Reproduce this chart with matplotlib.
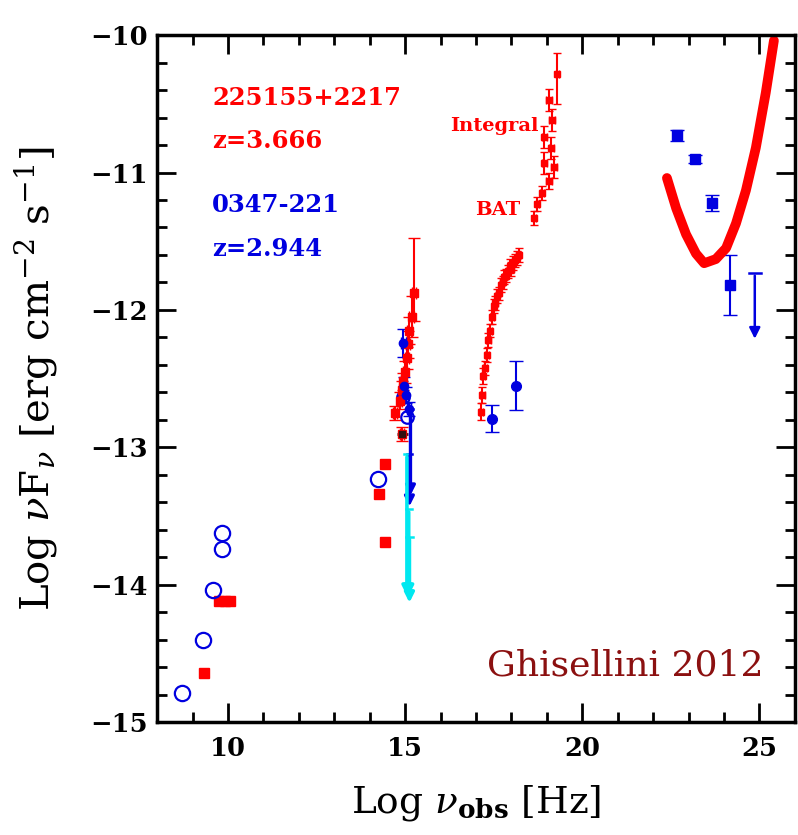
import matplotlib
matplotlib.use("Agg")
import matplotlib.pyplot as plt
import numpy as np

plt.rcParams['mathtext.fontset'] = 'dejavuserif'

# ---------------- data (log nu [Hz], log nuFnu [erg cm^-2 s^-1]) ----------------
# 0347-221 radio (open blue circles)
radio_blue_x = [8.70, 9.30, 9.58, 9.83, 9.83]
radio_blue_y = [-14.79, -14.40, -14.04, -13.74, -13.62]
# 225155+2217 radio (red squares)
radio_red_x = [9.32, 9.75, 9.90, 10.05]
radio_red_y = [-14.64, -14.12, -14.12, -14.12]

# IR / optical
ir_red_x = [14.42, 14.25, 14.42]
ir_red_y = [-13.12, -13.34, -13.69]
ir_blue_x = [14.23]
ir_blue_y = [-13.23]

opt_red_x = [15.25, 15.18, 15.12, 15.08, 15.05, 15.00, 14.95, 14.90, 14.85, 14.72, 14.92]
opt_red_y = [-11.88, -12.05, -12.15, -12.25, -12.35, -12.45, -12.52, -12.58, -12.66, -12.75, -12.90]
opt_red_eup = [0.40, 0.15, 0.10, 0.10, 0.08, 0.08, 0.06, 0.06, 0.06, 0.05, 0.05]
opt_red_edn = [0.20, 0.15, 0.10, 0.10, 0.08, 0.08, 0.06, 0.06, 0.06, 0.05, 0.05]

opt_blue_x = [14.95, 14.98, 15.02, 15.10]
opt_blue_y = [-12.24, -12.55, -12.62, -12.72]
opt_blue_err = [0.10, 0.06, 0.06, 0.05]
opt_blue_open_x = [14.95, 15.05]
opt_blue_open_y = [-12.63, -12.78]
opt_blue_ul_x = [15.15, 15.12]
opt_blue_ul_y = [-12.72, -13.05]
opt_blue_ul_len = [0.65, 0.40]

opt_black_x = [14.92]
opt_black_y = [-12.90]

cyan_ul_x = [15.05, 15.10, 15.12]
cyan_ul_y = [-13.05, -13.45, -13.65]
cyan_ul_len = [1.05, 0.65, 0.50]

# X-ray (red, XRT)
xray_x = [17.15, 17.18, 17.20, 17.25, 17.30, 17.35, 17.40, 17.45, 17.50, 17.55, 17.60, 17.65,
          17.70, 17.75, 17.80, 17.85, 17.90, 17.95, 18.00, 18.05, 18.10, 18.15, 18.20]
xray_y = [-12.74, -12.62, -12.48, -12.42, -12.33, -12.22, -12.15, -12.05, -11.97, -11.95, -11.90, -11.88,
          -11.82, -11.80, -11.76, -11.75, -11.72, -11.68, -11.70, -11.66, -11.64, -11.62, -11.60]
xray_err = [0.06, 0.06, 0.06, 0.05, 0.05, 0.05, 0.05, 0.05, 0.05, 0.05, 0.05, 0.05,
            0.05, 0.05, 0.05, 0.05, 0.05, 0.05, 0.05, 0.05, 0.05, 0.05, 0.05]
# X-ray (blue)
xray_blue_x = [17.46, 18.14]
xray_blue_y = [-12.79, -12.55]
xray_blue_err = [0.10, 0.18]

# BAT + Integral (red)
hard_x = [19.30, 19.07, 19.15, 18.93, 19.13, 18.93, 19.21, 19.07, 18.87, 18.73, 18.65]
hard_y = [-10.28, -10.47, -10.62, -10.74, -10.82, -10.93, -10.96, -11.06, -11.15, -11.23, -11.33]
hard_eup = [0.15, 0.08, 0.08, 0.08, 0.08, 0.08, 0.08, 0.06, 0.05, 0.05, 0.05]
hard_edn = [0.22, 0.08, 0.08, 0.08, 0.08, 0.08, 0.08, 0.06, 0.05, 0.05, 0.05]
hard_xerr = [0.03, 0.08, 0.08, 0.08, 0.08, 0.08, 0.08, 0.08, 0.05, 0.05, 0.05]

# Fermi (blue)
fermi_x = [22.68, 23.18, 23.66, 24.17]
fermi_y = [-10.73, -10.90, -11.22, -11.82]
fermi_err = [0.04, 0.03, 0.06, 0.22]
fermi_ul_x = [24.87]
fermi_ul_y = [-11.73]
fermi_ul_len = [0.50]

# Fermi sensitivity / model curve (thick red)
curve_x = [22.39, 22.65, 22.93, 23.21, 23.44, 23.77, 24.06, 24.34, 24.62, 24.90, 25.18, 25.41]
curve_y = [-11.04, -11.26, -11.45, -11.59, -11.66, -11.63, -11.55, -11.37, -11.13, -10.82, -10.42, -10.04]

RED = '#ff0000'
BLUE = '#0000e0'
CYAN = '#00e8f0'

# ---------------- figure ----------------
fig = plt.figure(figsize=(7.98, 8.35), dpi=100)
ax = fig.add_axes([0.197, 0.135, 0.799, 0.823])

# radio
ax.plot(radio_red_x, radio_red_y, 's', color=RED, ms=7, mec=RED)
ax.plot(radio_blue_x, radio_blue_y, 'o', mfc='none', mec=BLUE, mew=1.6, ms=11)

# IR
ax.plot(ir_red_x, ir_red_y, 's', color=RED, ms=7)
ax.plot(ir_blue_x, ir_blue_y, 'o', mfc='none', mec=BLUE, mew=1.6, ms=11)

# optical red
ax.errorbar(opt_red_x, opt_red_y, yerr=[opt_red_edn, opt_red_eup], xerr=0.06,
            fmt='s', color=RED, ms=6, capsize=4, lw=1.5)
ax.errorbar(opt_black_x, opt_black_y, yerr=0.03, xerr=0.15, fmt='s', color='#301010',
            ms=5, lw=2, capsize=0)
# optical blue
ax.errorbar(opt_blue_x, opt_blue_y, yerr=opt_blue_err, xerr=0.06, fmt='o', color=BLUE,
            ms=6, capsize=4, lw=1.5)
ax.plot(opt_blue_open_x, opt_blue_open_y, 'o', mfc='none', mec=BLUE, mew=1.6, ms=9)
for x, y, L in zip(opt_blue_ul_x, opt_blue_ul_y, opt_blue_ul_len):
    ax.plot([x - 0.07, x + 0.07], [y, y], color=BLUE, lw=1.8)
    ax.annotate('', xy=(x, y - L), xytext=(x, y),
                arrowprops=dict(arrowstyle='-|>', color=BLUE, lw=2.4, mutation_scale=14))
# cyan upper limits
for x, y, L in zip(cyan_ul_x, cyan_ul_y, cyan_ul_len):
    ax.plot([x - 0.09, x + 0.09], [y, y], color=CYAN, lw=1.8)
    ax.annotate('', xy=(x, y - L), xytext=(x, y),
                arrowprops=dict(arrowstyle='-|>', color=CYAN, lw=2.6, mutation_scale=14))

# X-ray red
ax.errorbar(xray_x, xray_y, yerr=xray_err, xerr=0.06, fmt='s', color=RED, ms=4.5,
            capsize=3, lw=1.5)
# X-ray blue
ax.errorbar(xray_blue_x, xray_blue_y, yerr=xray_blue_err, fmt='o', color=BLUE, ms=7,
            capsize=5, lw=1.5)

# BAT + Integral
ax.errorbar(hard_x, hard_y, yerr=[hard_edn, hard_eup], xerr=hard_xerr, fmt='s', color=RED,
            ms=4, capsize=3, lw=1.5)

# Fermi
ax.errorbar(fermi_x, fermi_y, yerr=fermi_err, fmt='s', color=BLUE, ms=7, capsize=5, lw=1.5)
for x, y, L in zip(fermi_ul_x, fermi_ul_y, fermi_ul_len):
    ax.plot([x - 0.17, x + 0.17], [y, y], color=BLUE, lw=1.8)
    ax.annotate('', xy=(x, y - L), xytext=(x, y),
                arrowprops=dict(arrowstyle='-|>', color=BLUE, lw=1.8, mutation_scale=16))

ax.plot(curve_x, curve_y, '-', color=RED, lw=7, solid_capstyle='round', solid_joinstyle='round')

# texts
tkw = dict(family='DejaVu Serif', fontweight='bold', fontsize=17.5, ha='left', va='center')
ax.text(9.55, -10.455, '225155+2217', color=RED, **tkw)
ax.text(9.55, -10.77, 'z=3.666', color=RED, **tkw)
ax.text(9.55, -11.24, '0347-221', color=BLUE, **tkw)
ax.text(9.55, -11.555, 'z=2.944', color=BLUE, **tkw)
ax.text(18.78, -10.66, 'Integral', color=RED, family='DejaVu Serif', fontweight='bold',
        fontsize=14, ha='right', va='center')
ax.text(18.25, -11.27, 'BAT', color=RED, family='DejaVu Serif', fontweight='bold',
        fontsize=14, ha='right', va='center')
ax.text(25.13, -14.66, 'Ghisellini 2012', color='#8b1010', family='DejaVu Serif',
        fontsize=26, ha='right', va='baseline')

# axes formatting
ax.set_xlim(8, 26)
ax.set_ylim(-15, -10)
ax.set_xticks([10, 15, 20, 25])
ax.set_xticks(np.arange(8, 27, 1), minor=True)
ax.set_yticks([-15, -14, -13, -12, -11, -10])
ax.set_yticks(np.arange(-15, -9.9, 0.2), minor=True)
ax.set_yticklabels(['\u221215', '\u221214', '\u221213', '\u221212', '\u221211', '\u221210'])
ax.tick_params(which='both', direction='in', top=True, right=True, width=2)
ax.tick_params(which='major', length=14)
ax.tick_params(axis='y', which='major', pad=7)
ax.tick_params(axis='x', which='major', pad=10)
ax.tick_params(which='minor', length=7)
for lab in ax.get_xticklabels() + ax.get_yticklabels():
    lab.set_family('DejaVu Serif')
    lab.set_fontweight('bold')
    lab.set_fontsize(18.5)
for s in ax.spines.values():
    s.set_linewidth(2.5)

ax.set_xlabel(r'Log $\nu_{\mathbf{obs}}$ [Hz]', family='DejaVu Serif', fontsize=27, labelpad=16)
ax.set_ylabel(r'Log $\nu$F$_\nu$ [erg cm$^{-2}$ s$^{-1}$]', family='DejaVu Serif',
              fontsize=29, labelpad=22)

fig.savefig('out.png', dpi=100)
